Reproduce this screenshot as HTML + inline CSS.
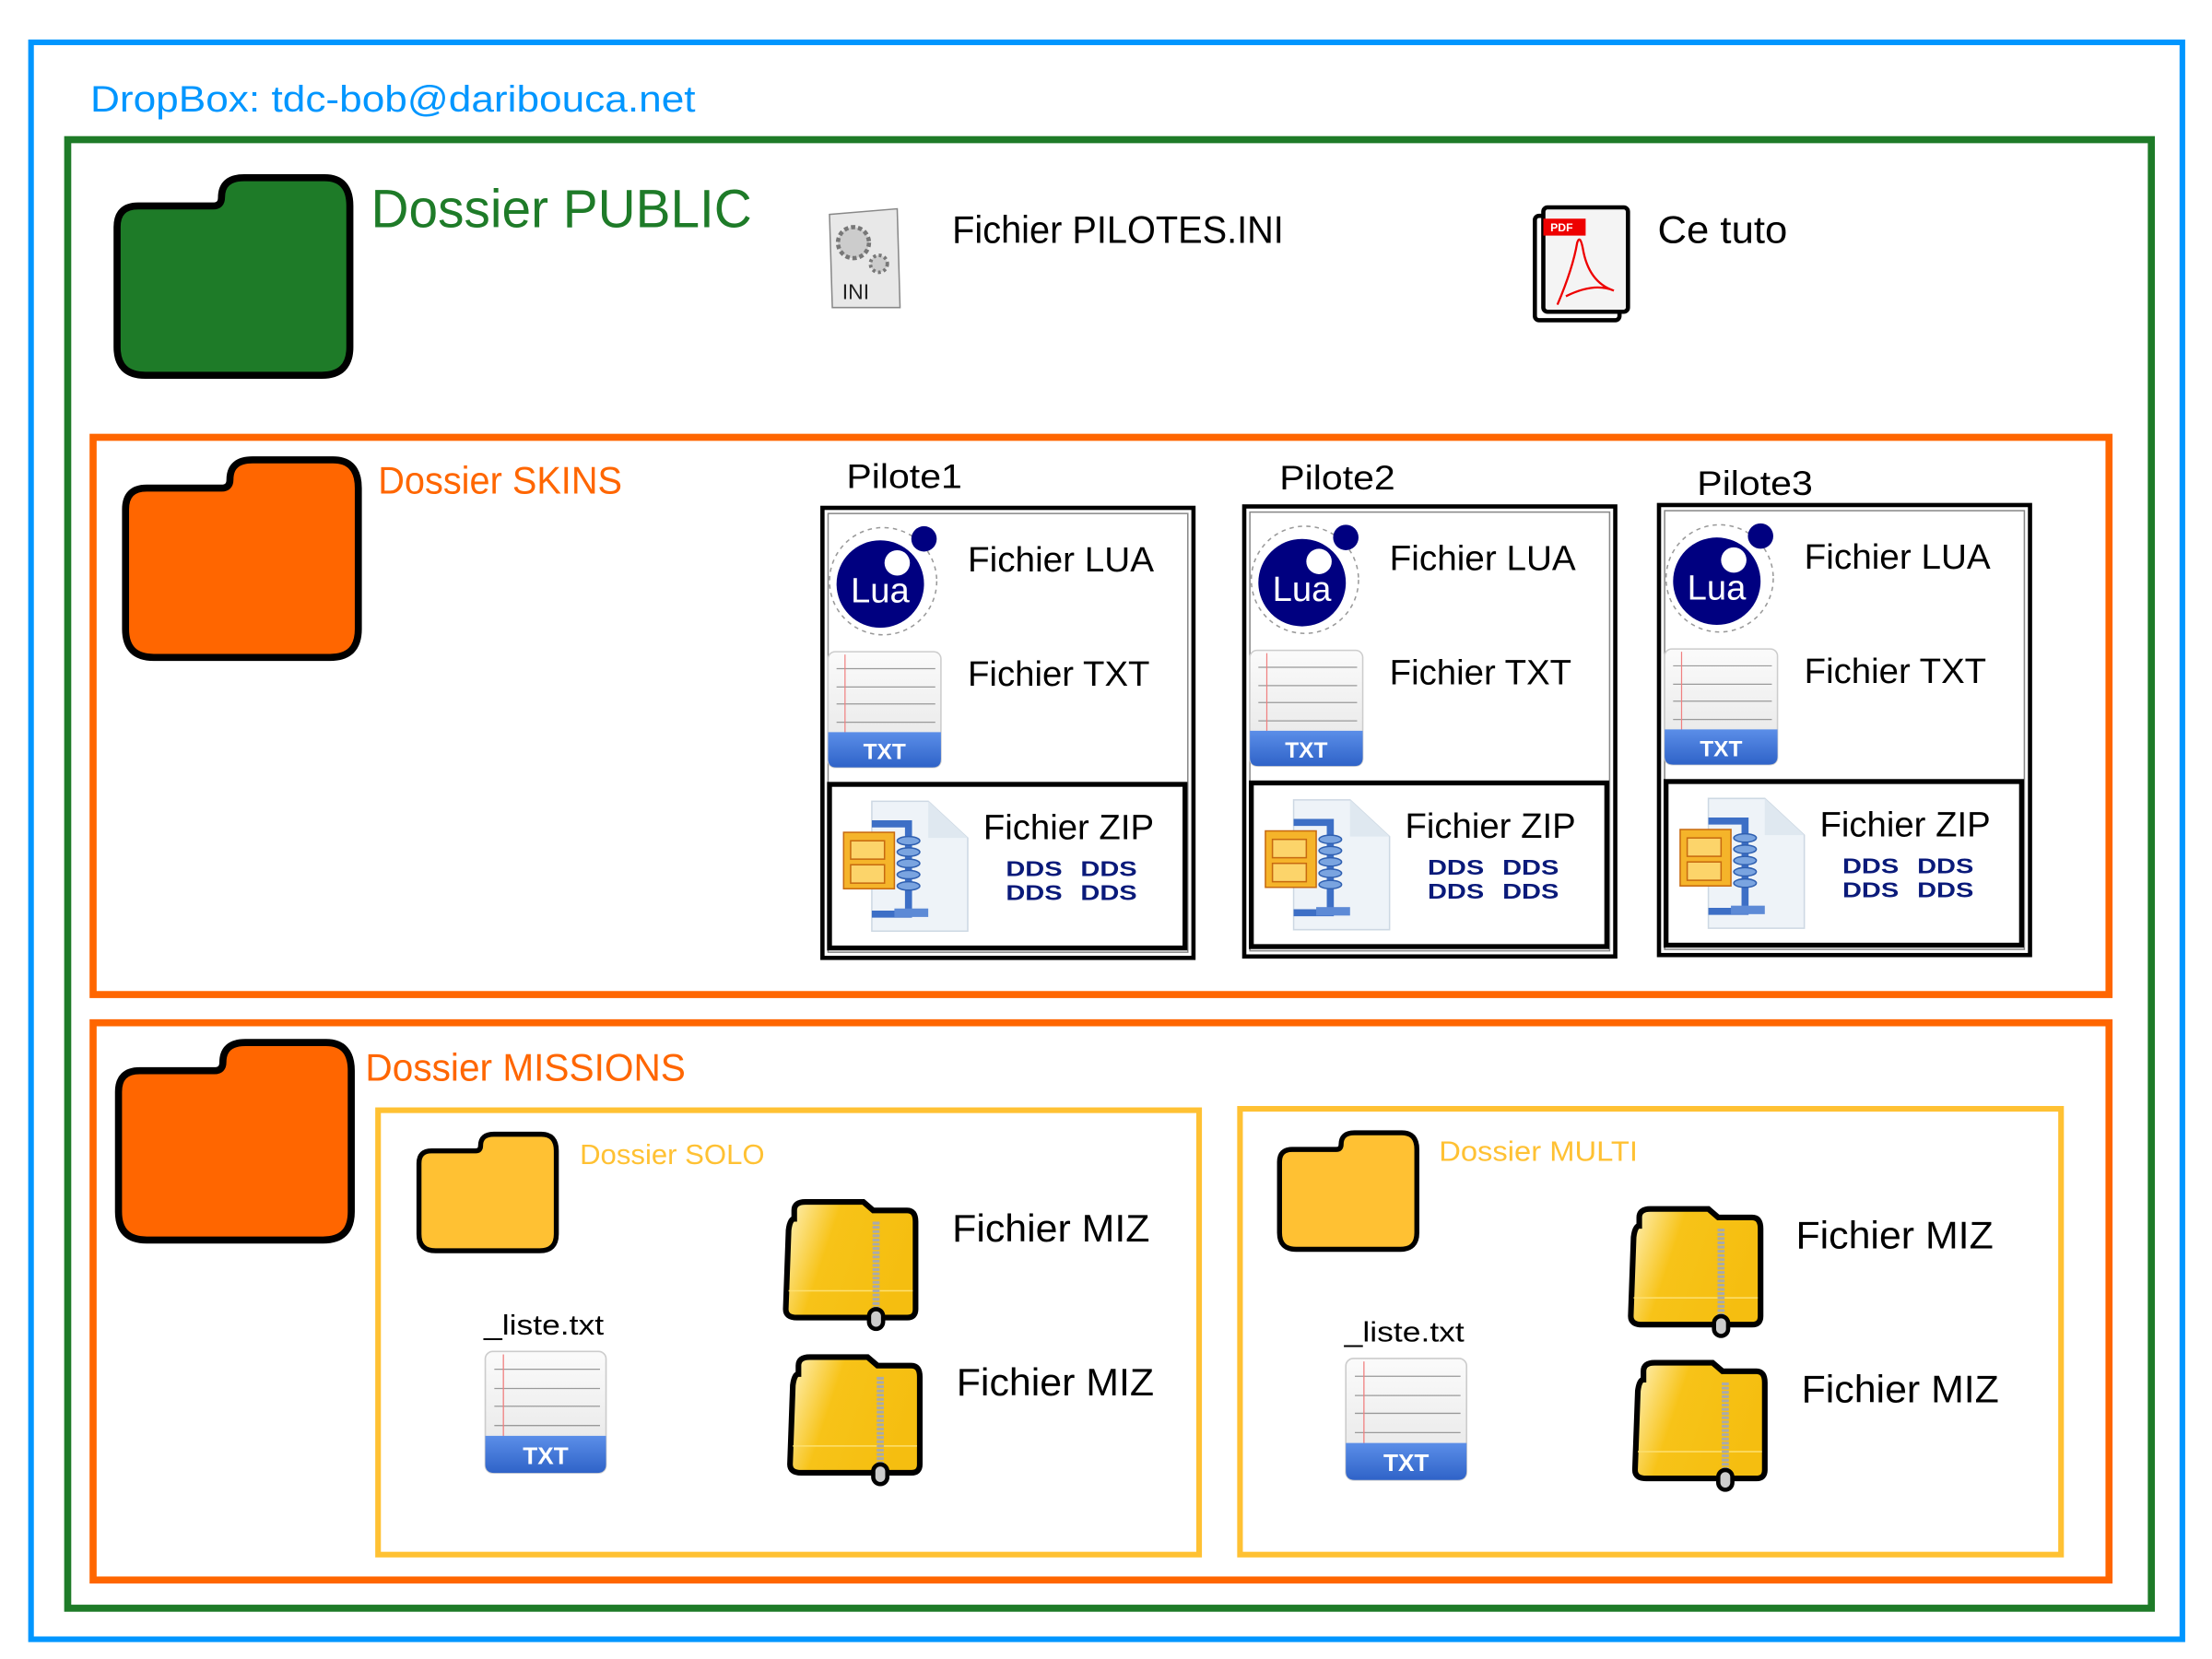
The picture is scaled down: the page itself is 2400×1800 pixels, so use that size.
<!DOCTYPE html>
<html><head><meta charset="utf-8"><style>
html,body{margin:0;padding:0;background:#fff;width:2400px;height:1800px;overflow:hidden}
svg text{font-family:"Liberation Sans",sans-serif}
</style></head><body>
<svg width="2400" height="1800" viewBox="0 0 1568 1176" xmlns="http://www.w3.org/2000/svg">
<defs>
<path id="fold" d="M0,35 Q0,20 15,20 L68,20 Q74,20 74,14 Q74,0 90,0 L147,0 Q165,0 165,20 L165,120 Q165,140 145,140 L20,140 Q0,140 0,120 Z"/>
<g id="lua">
<circle cx="40" cy="40" r="38" fill="none" stroke="#999" stroke-width="1" stroke-dasharray="3,3"/>
<circle cx="38" cy="42" r="31" fill="#000080"/>
<circle cx="69" cy="10" r="9" fill="#000080"/>
<circle cx="50" cy="27" r="9" fill="#fff"/>
<text x="17" y="55" font-size="25" fill="#fff">Lua</text>
</g>
<linearGradient id="pg" x1="0" y1="0" x2="0" y2="1"><stop offset="0" stop-color="#fbfbfb"/><stop offset="1" stop-color="#e4e4e4"/></linearGradient>
<linearGradient id="bg" x1="0" y1="0" x2="0" y2="1"><stop offset="0" stop-color="#5b8ee8"/><stop offset="1" stop-color="#2f63c8"/></linearGradient>
<g id="txt">
<rect x="0" y="0" width="80" height="82" rx="5" fill="url(#pg)" stroke="#ccc"/>
<g stroke="#999" stroke-width="0.8"><line x1="6" y1="12" x2="76" y2="12"/><line x1="6" y1="25" x2="76" y2="25"/><line x1="6" y1="37" x2="76" y2="37"/><line x1="6" y1="50" x2="76" y2="50"/></g>
<line x1="12" y1="2" x2="12" y2="58" stroke="#f08080" stroke-width="0.8"/>
<path d="M0,57 L80,57 L80,76 Q80,82 74,82 L6,82 Q0,82 0,76 Z" fill="url(#bg)"/>
<text x="40" y="76" font-size="16" font-weight="bold" fill="#fff" text-anchor="middle">TXT</text>
</g>
<g id="zip">
<path d="M20,0 L60,0 L88,26 L88,92 L20,92 Z" fill="#eef3f8" stroke="#cdd8e3"/>
<path d="M60,0 L60,26 L88,26" fill="#dfe8f0"/>
<rect x="0" y="22" width="36" height="40" fill="#f5b42a" stroke="#c76a10"/>
<rect x="5" y="28" width="24" height="13" fill="#fcd46a" stroke="#c76a10"/>
<rect x="5" y="45" width="24" height="13" fill="#fcd46a" stroke="#c76a10"/>
<path d="M20,16 L46,16 L46,80 L20,80" fill="none" stroke="#3d6fc6" stroke-width="5"/>
<g fill="#7aa4e0" stroke="#2f5fb0"><ellipse cx="46" cy="28" rx="8" ry="3"/><ellipse cx="46" cy="36" rx="8" ry="3"/><ellipse cx="46" cy="44" rx="8" ry="3"/><ellipse cx="46" cy="52" rx="8" ry="3"/><ellipse cx="46" cy="60" rx="8" ry="3"/></g>
<rect x="36" y="76" width="24" height="6" fill="#5d8ad6"/>
</g>
<linearGradient id="yg" x1="0" y1="0" x2="1" y2="0.3"><stop offset="0" stop-color="#fff3c0"/><stop offset="0.4" stop-color="#f7c318"/><stop offset="1" stop-color="#f5be10"/></linearGradient>
<g id="miz">
<path d="M6,6 Q6,0 14,0 L55,0 L62,6 L86,6 Q92,6 92,14 L92,76 Q92,82 86,82 L8,82 Q0,82 0,76 L2,20 Q3,12 6,12 Z" fill="url(#yg)" stroke="#000" stroke-width="4"/>
<line x1="2" y1="63" x2="90" y2="63" stroke="#fde070" stroke-width="1"/>
<line x1="64" y1="14" x2="64" y2="80" stroke="#aaa" stroke-width="5" stroke-dasharray="2,1"/>
<rect x="59" y="76" width="10" height="14" rx="5" fill="#ccc" stroke="#000" stroke-width="3"/>
</g>
<g id="dds" font-size="15" font-weight="bold" fill="#0a1a7a" font-family="Liberation Sans">
<text x="0" y="0" textLength="40" lengthAdjust="spacingAndGlyphs">DDS</text><text x="53" y="0" textLength="40" lengthAdjust="spacingAndGlyphs">DDS</text>
<text x="0" y="17" textLength="40" lengthAdjust="spacingAndGlyphs">DDS</text><text x="53" y="17" textLength="40" lengthAdjust="spacingAndGlyphs">DDS</text>
</g>
</defs>

<rect x="22" y="30" width="1525" height="1132" fill="none" stroke="#0096ff" stroke-width="4"/>
<text x="64" y="79" font-size="26" fill="#0096ff" textLength="429" lengthAdjust="spacingAndGlyphs">DropBox: tdc-bob@daribouca.net</text>
<rect x="48" y="99" width="1477" height="1041" fill="none" stroke="#1e7b28" stroke-width="5"/>

<use href="#fold" transform="translate(83,126)" fill="#1e7b28" stroke="#000" stroke-width="5"/>
<text x="263" y="161" font-size="38" fill="#1e7b28" textLength="270" lengthAdjust="spacingAndGlyphs">Dossier PUBLIC</text>
<g>
<path d="M588,152 L636,148 L638,218 L590,218 Z" fill="#e8e8e8" stroke="#888"/>
<circle cx="605" cy="172" r="11" fill="#ccc" stroke="#777" stroke-width="3" stroke-dasharray="3,2"/>
<circle cx="623" cy="187" r="6" fill="#ccc" stroke="#777" stroke-width="2.5" stroke-dasharray="2,2"/>
<text x="597" y="212" font-size="15" font-family="Liberation Serif" fill="#222">INI</text>
</g>
<text x="675" y="172" font-size="27" fill="#000" textLength="235" lengthAdjust="spacingAndGlyphs">Fichier PILOTES.INI</text>
<g>
<rect x="1088" y="153" width="60" height="74" rx="3" fill="#fff" stroke="#000" stroke-width="3"/>
<rect x="1094" y="147" width="60" height="74" rx="3" fill="#f4f4f4" stroke="#000" stroke-width="3"/>
<rect x="1094" y="155" width="30" height="12" fill="#e00"/>
<text x="1099" y="164" font-size="8" font-weight="bold" fill="#fff">PDF</text>
<path d="M1104,216 Q1115,190 1118,172 Q1120,166 1122,176 Q1126,200 1144,206 Q1130,200 1110,210" fill="none" stroke="#e00" stroke-width="1.5"/>
</g>
<text x="1175" y="172" font-size="27" fill="#000" textLength="92" lengthAdjust="spacingAndGlyphs">Ce tuto</text>

<rect x="66" y="310" width="1429" height="395" fill="none" stroke="#ff6600" stroke-width="5"/>
<use href="#fold" transform="translate(89,326)" fill="#ff6600" stroke="#000" stroke-width="5"/>
<text x="268" y="350" font-size="27" fill="#ff6600" textLength="173" lengthAdjust="spacingAndGlyphs">Dossier SKINS</text>

<g id="p1">
<text x="600" y="346" font-size="24" fill="#000" textLength="82" lengthAdjust="spacingAndGlyphs">Pilote1</text>
<rect x="583" y="360" width="263" height="319" fill="none" stroke="#000" stroke-width="3"/>
<rect x="587" y="364" width="255" height="311" fill="none" stroke="#888" stroke-width="1"/>
<use href="#lua" transform="translate(586,372)"/>
<text x="686" y="405" font-size="25" fill="#000" textLength="132" lengthAdjust="spacingAndGlyphs">Fichier LUA</text>
<use href="#txt" transform="translate(587,462)"/>
<text x="686" y="486" font-size="25" fill="#000" textLength="129" lengthAdjust="spacingAndGlyphs">Fichier TXT</text>
<rect x="588" y="556" width="252" height="116" fill="none" stroke="#000" stroke-width="3.5"/>
<use href="#zip" transform="translate(598,568)"/>
<text x="697" y="595" font-size="25" fill="#000" textLength="121" lengthAdjust="spacingAndGlyphs">Fichier ZIP</text>
<use href="#dds" transform="translate(713,621)"/>
</g>
<use href="#p1" transform="translate(299,-1)"/>
<use href="#p1" transform="translate(593,-2)"/>
<rect x="890" y="325" width="110" height="30" fill="#fff"/>
<text x="907" y="347" font-size="24" fill="#000" textLength="82" lengthAdjust="spacingAndGlyphs">Pilote2</text>
<rect x="1185" y="325" width="110" height="30" fill="#fff"/>
<text x="1203" y="351" font-size="24" fill="#000" textLength="82" lengthAdjust="spacingAndGlyphs">Pilote3</text>

<rect x="66" y="725" width="1429" height="395" fill="none" stroke="#ff6600" stroke-width="5"/>
<use href="#fold" transform="translate(84,739)" fill="#ff6600" stroke="#000" stroke-width="5"/>
<text x="259" y="766" font-size="27" fill="#ff6600" textLength="227" lengthAdjust="spacingAndGlyphs">Dossier MISSIONS</text>

<rect x="268" y="787" width="582" height="315" fill="none" stroke="#ffc133" stroke-width="4"/>
<use href="#fold" transform="translate(297,804) scale(0.59,0.59)" fill="#ffc133" stroke="#000" stroke-width="6"/>
<text x="411" y="825" font-size="20" fill="#ffc133" textLength="131" lengthAdjust="spacingAndGlyphs">Dossier SOLO</text>
<use href="#miz" transform="translate(557,852)"/>
<text x="675" y="880" font-size="27" fill="#000" textLength="140" lengthAdjust="spacingAndGlyphs">Fichier MIZ</text>
<use href="#miz" transform="translate(560,962)"/>
<text x="678" y="989" font-size="27" fill="#000" textLength="140" lengthAdjust="spacingAndGlyphs">Fichier MIZ</text>
<text x="343" y="946" font-size="20" fill="#000" textLength="85" lengthAdjust="spacingAndGlyphs">_liste.txt</text>
<use href="#txt" transform="translate(344,958) scale(1.07,1.05)"/>

<rect x="879" y="786" width="582" height="316" fill="none" stroke="#ffc133" stroke-width="4"/>
<use href="#fold" transform="translate(907,803) scale(0.59,0.59)" fill="#ffc133" stroke="#000" stroke-width="6"/>
<text x="1020" y="823" font-size="20" fill="#ffc133" textLength="141" lengthAdjust="spacingAndGlyphs">Dossier MULTI</text>
<use href="#miz" transform="translate(1156,857)"/>
<text x="1273" y="885" font-size="27" fill="#000" textLength="140" lengthAdjust="spacingAndGlyphs">Fichier MIZ</text>
<use href="#miz" transform="translate(1159,966)"/>
<text x="1277" y="994" font-size="27" fill="#000" textLength="140" lengthAdjust="spacingAndGlyphs">Fichier MIZ</text>
<text x="953" y="951" font-size="20" fill="#000" textLength="85" lengthAdjust="spacingAndGlyphs">_liste.txt</text>
<use href="#txt" transform="translate(954,963) scale(1.07,1.05)"/>
</svg>
</body></html>
